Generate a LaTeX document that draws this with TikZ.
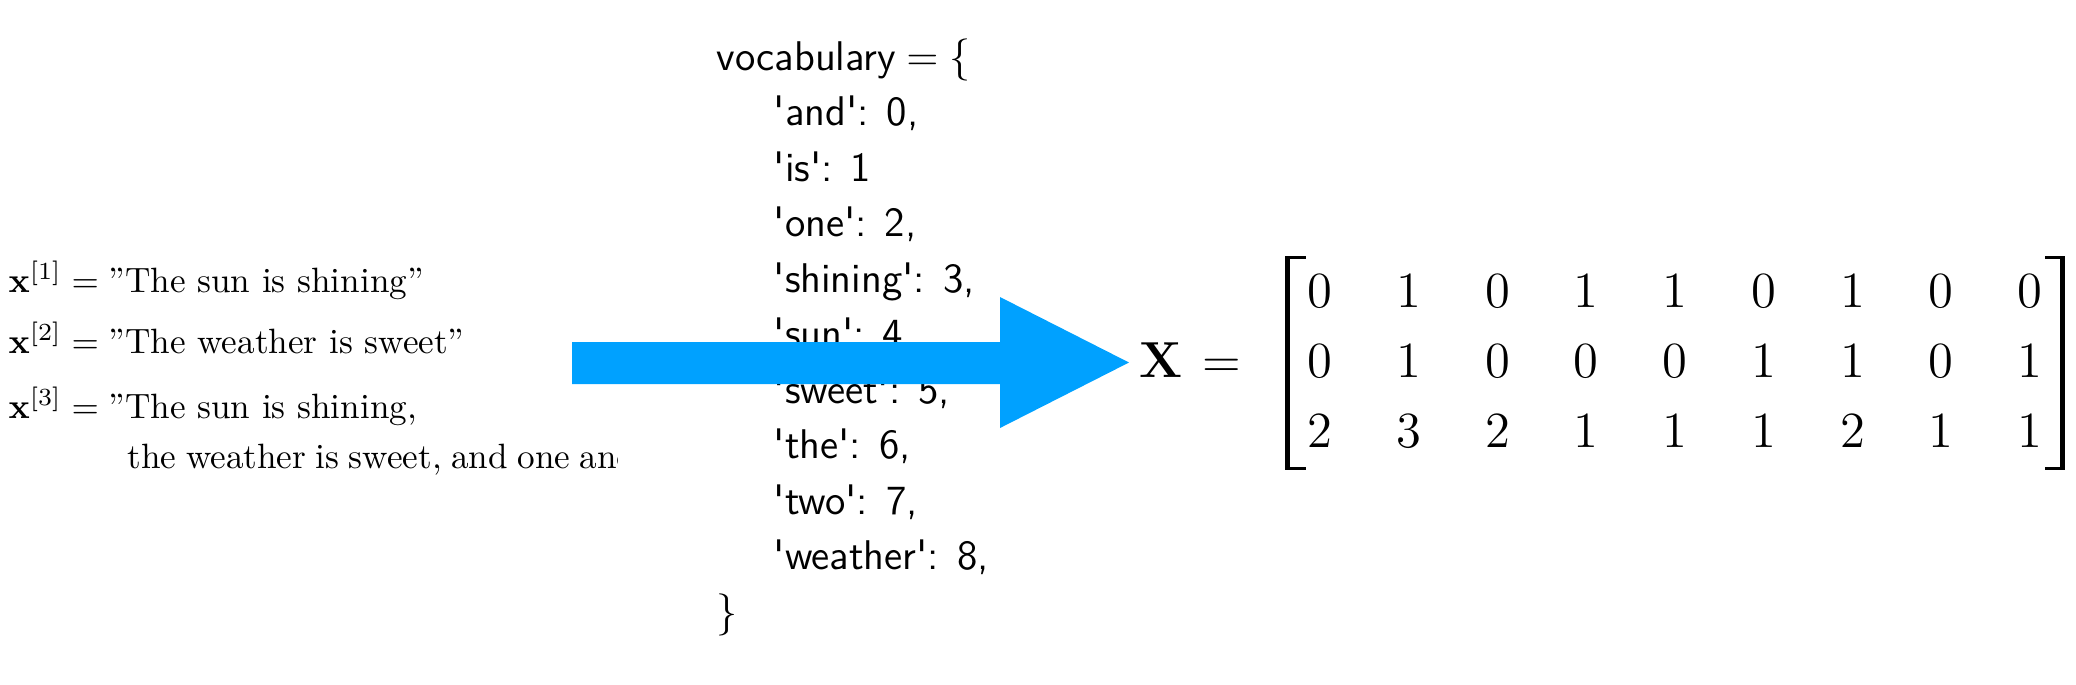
\documentclass[tikz,border=0pt]{standalone}
\usepackage{amsmath}
\definecolor{arrowblue}{RGB}{0,161,255}
\newcommand{\sq}{\textquotesingle}
\begin{document}
\begin{tikzpicture}[x=0.01cm,y=-0.01cm,
  sent/.style={anchor=base west,inner sep=0pt,font=\fontsize{10}{12}\selectfont},
  voc/.style={anchor=base west,inner sep=0pt,font=\fontsize{11.8}{14}\selectfont\sffamily},
  ent/.style={anchor=base,inner sep=0pt,font=\fontsize{14.6}{17}\selectfont},
  brk/.style={fill=black}]
\useasboundingbox (0,0) rectangle (2076,684);
% sentences
\node[sent] (s1) at (8,292) {$\mathbf{x}^{[1]} = \text{''The sun is shining''}$};
\node[sent] (s2) at (8,353) {$\mathbf{x}^{[2]} = \text{''The weather is sweet''}$};
\node[sent] (s3) at (8,418) {$\mathbf{x}^{[3]} = \text{''The sun is shining,}$};
\begin{scope}
\clip (0,425) rectangle (617,500);
\node[sent] (s4) at (127,468) {\spaceskip=2.7pt\relax the weather is sweet, and one and};
\end{scope}
% vocabulary
\node[voc] (v0) at (716,70) {vocabulary\hspace{2.9pt}{\fontsize{13}{15}\selectfont$=$\hspace{3.2pt}$\{$}};
\foreach \t [count=\i] in {{\sq and\sq: 0,},{\sq is\sq: 1},{\sq one\sq: 2,},{\sq shining\sq: 3,},{\sq sun\sq: 4},{\sq sweet\sq: 5,},{\sq the\sq: 6,},{\sq two\sq: 7,},{\sq weather\sq: 8,}}{
  \node[voc] (v\i) at (773,{70+55.5*\i}) {\t};
}
\node[voc] (vend) at (716,625) {$\}$};
% arrow
\fill[arrowblue] (572,342) -- (1000,342) -- (1000,297) -- (1129,362.5) -- (1000,428) -- (1000,384) -- (572,384) -- cycle;
% matrix
\node[ent,anchor=base west] (X) at (1139,377) {$\mathbf{X}\mkern2mu =$};
\foreach \row [count=\r] in {{0,1,0,1,1,0,1,0,0},{0,1,0,0,0,1,1,0,1},{2,3,2,1,1,1,2,1,1}}{
  \foreach \v [count=\c] in \row {
    \node[ent] (m-\r-\c) at ({1320+88.75*(\c-1)},{307+70*(\r-1)}) {$\v$};
  }
}
\fill[brk] (1285,256) rectangle (1290,470);
\fill[brk] (1285,256) rectangle (1306,259);
\fill[brk] (1285,467) rectangle (1306,470);
\fill[brk] (2060,256) rectangle (2065,470);
\fill[brk] (2045,256) rectangle (2065,259);
\fill[brk] (2045,467) rectangle (2065,470);
\end{tikzpicture}
\end{document}
